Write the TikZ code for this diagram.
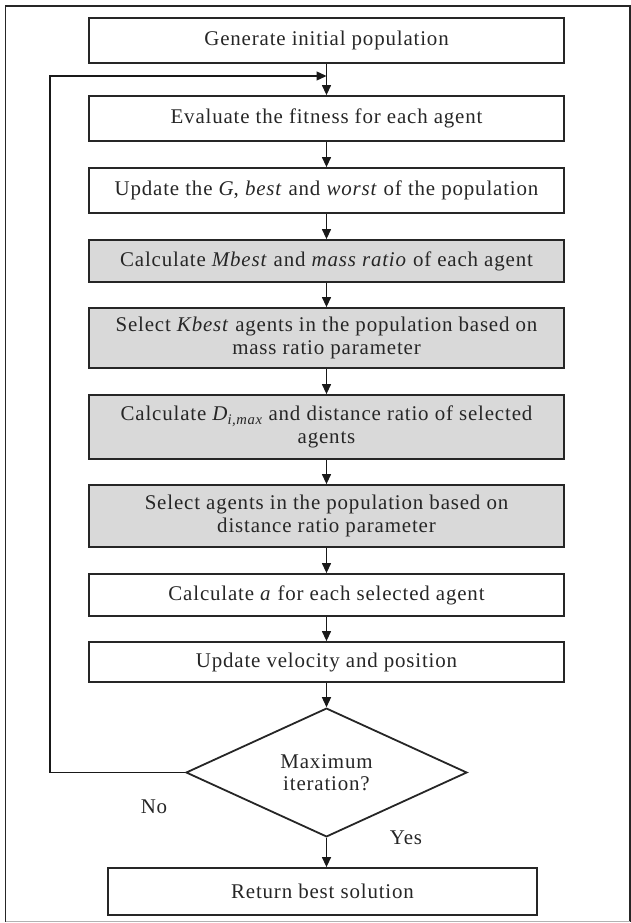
\documentclass[tikz,border=0pt]{standalone}
\usepackage{fontspec}
\setmainfont{Liberation Serif}[LetterSpace=4]
\usetikzlibrary{arrows.meta,shapes.geometric}
\begin{document}
\begin{tikzpicture}[x=1bp,y=-1bp,
  txt/.style={font=\fontsize{21}{22.5}\selectfont,text=black!85},
  box/.style={txt,draw=black!85,line width=1.8bp,minimum width=475bp,inner sep=0pt,align=center},
  greybox/.style={box,fill=gray!30},
  arr/.style={-{Triangle[length=10bp,width=9bp]},line width=1.3bp,draw=black!90},
  frameline/.style={line width=1.6bp}]
\useasboundingbox (0,0) rectangle (631,923);
% outer frame
\draw[frameline,black!85] (5.5,921.5) -- (5.5,6) -- (630,6) -- (630,921.5);
\draw[frameline,gray!60] (5.5,921.5) -- (630,921.5);
% boxes
\node[box,minimum height=45bp] (b1) at (326.5,40.5) {Generate initial population};
\node[box,minimum height=45bp] (b2) at (326.5,118.5) {Evaluate the fitness for each agent};
\node[box,minimum height=45bp] (b3) at (326.5,190.5) {Update the \textit{G}, \textit{best} and \textit{worst} of the population};
\node[greybox,minimum height=42bp] (b4) at (326.5,261) {Calculate \textit{Mbest} and \textit{mass ratio} of each agent};
\node[greybox,minimum height=60bp] (b5) at (326.5,338) {Select \textit{Kbest} agents in the population based on\\mass ratio parameter};
\node[greybox,minimum height=64bp] (b6) at (326.5,427) {Calculate \textit{D\textsubscript{i,max}} and distance ratio of selected\\agents};
\node[greybox,minimum height=62bp] (b7) at (326.5,516) {Select agents in the population based on\\distance ratio parameter};
\node[box,minimum height=42bp] (b8) at (326.5,595) {Calculate \textit{a} for each selected agent};
\node[box,minimum height=40bp] (b9) at (326.5,662) {Update velocity and position};
\node[txt,diamond,draw=black!85,line width=1.8bp,minimum width=281bp,minimum height=125bp,inner sep=0pt,align=center] (d) at (326.5,772.5) {Maximum\\iteration?};
\node[box,minimum width=429bp,minimum height=47bp] (b10) at (322.5,891.5) {Return best solution};
% labels
\node[txt] (no) at (154,807) {No};
\node[txt] (yes) at (406,838) {Yes};
% arrows
\draw[arr] (b1.south) -- (b2.north);
\draw[arr] (b2.south) -- (b3.north);
\draw[arr] (b3.south) -- (b4.north);
\draw[arr] (b4.south) -- (b5.north);
\draw[arr] (b5.south) -- (b6.north);
\draw[arr] (b6.south) -- (b7.north);
\draw[arr] (b7.south) -- (b8.north);
\draw[arr] (b8.south) -- (b9.north);
\draw[arr] (b9.south) -- (d.north);
\draw[arr] (d.south) -- (d.south |- b10.north);
% loop back
\coordinate (lc1) at (50,772.5);
\coordinate (lc2) at (50,76);
\coordinate (j) at (326.5,76);
\draw[arr] (d.west) -- (lc1) -- (lc2) -- (j);
\end{tikzpicture}
\end{document}
